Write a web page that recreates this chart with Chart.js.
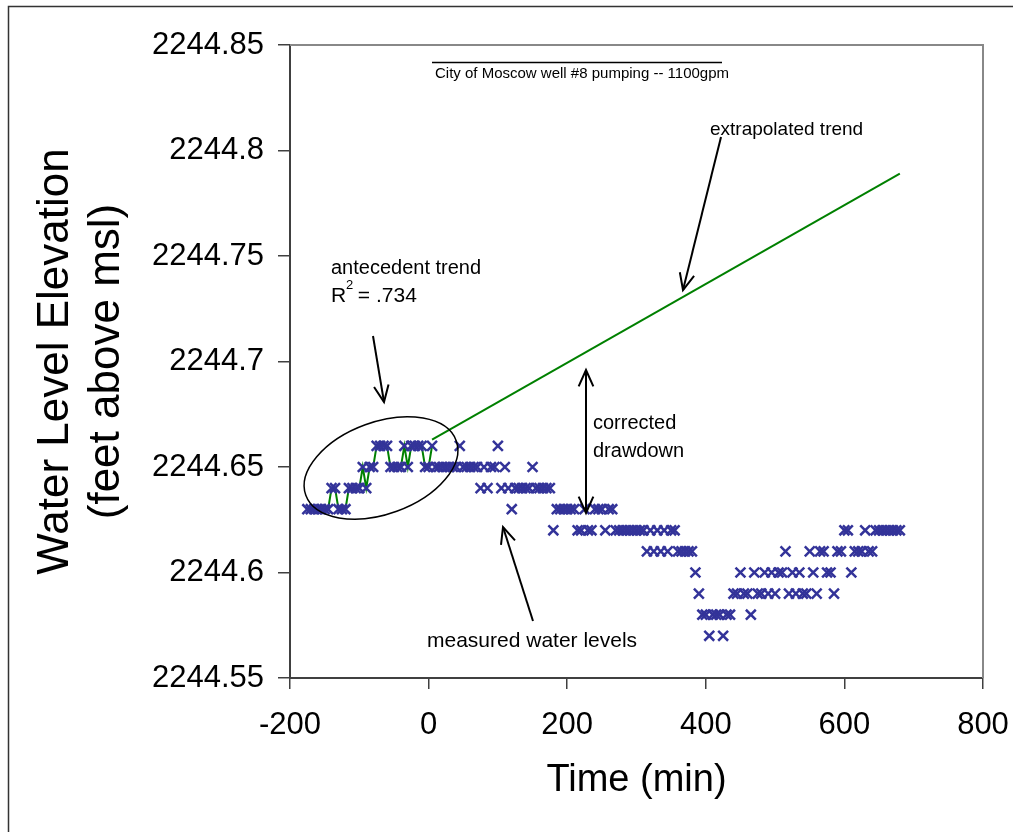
<!DOCTYPE html>
<html>
<head>
<meta charset="utf-8">
<title>Well #8 pumping test - water level</title>
<script src="https://cdn.jsdelivr.net/npm/chart.js@4.4.0/dist/chart.umd.min.js"></script>
<style>
  html, body { margin: 0; padding: 0; background: #fff; }
  #wrap { width: 1013px; height: 832px; }
</style>
</head>
<body>
<div id="wrap"><canvas id="levelChart" width="1013" height="832"></canvas></div>
<script>
// --- DATA ---
// antecedent readings before the pump started (minutes, feet above msl)
const preTimes = [-175, -170, -165, -160, -155, -150, -145, -140, -135, -130, -125, -120,
  -115, -110, -105, -100, -95, -90, -85, -80, -75, -70, -65, -60, -55, -50, -45, -40,
  -35, -30, -25, -20, -15, -10, -5, 0, 5];
const preLevels = [2244.63, 2244.63, 2244.63, 2244.63, 2244.63, 2244.63, 2244.63, 2244.64,
  2244.64, 2244.63, 2244.63, 2244.63, 2244.64, 2244.64, 2244.64, 2244.64, 2244.65, 2244.64,
  2244.65, 2244.65, 2244.66, 2244.66, 2244.66, 2244.66, 2244.65, 2244.65, 2244.65, 2244.65,
  2244.66, 2244.65, 2244.66, 2244.66, 2244.66, 2244.66, 2244.65, 2244.65, 2244.66];

// measured levels while pumping at 1100 gpm
const postTimes = [10, 15, 20, 25, 30, 35, 40, 45, 50, 55, 60, 65, 70, 75, 80, 85, 90, 95,
  100, 105, 110, 115, 120, 125, 130, 135, 140, 145, 150, 155, 160, 165, 170, 175, 180, 185,
  190, 195, 200, 205, 210, 215, 220, 225, 230, 235, 240, 245, 250, 255, 260, 265, 270, 275,
  280, 285, 290, 295, 300, 305, 310, 315, 320, 325, 330, 335, 340, 345, 350, 355, 360, 365,
  370, 375, 380, 385, 390, 395, 400, 405, 410, 415, 420, 425, 430, 435, 440, 445, 450, 455,
  460, 465, 470, 475, 480, 485, 490, 495, 500, 505, 510, 515, 520, 525, 530, 535, 540, 545,
  550, 555, 560, 565, 570, 575, 580, 585, 590, 595, 600, 605, 610, 615, 620, 625, 630, 635,
  640, 645, 650, 655, 660, 665, 670, 675, 680];
const postLevels = [2244.65, 2244.65, 2244.65, 2244.65, 2244.65, 2244.65, 2244.65, 2244.66,
  2244.65, 2244.65, 2244.65, 2244.65, 2244.65, 2244.64, 2244.65, 2244.64, 2244.65, 2244.65,
  2244.66, 2244.64, 2244.65, 2244.64, 2244.63, 2244.64, 2244.64, 2244.64, 2244.64, 2244.64,
  2244.65, 2244.64, 2244.64, 2244.64, 2244.64, 2244.64, 2244.62, 2244.63, 2244.63, 2244.63,
  2244.63, 2244.63, 2244.63, 2244.62, 2244.62, 2244.63, 2244.62, 2244.62, 2244.63, 2244.63,
  2244.63, 2244.62, 2244.63, 2244.63, 2244.62, 2244.62, 2244.62, 2244.62, 2244.62, 2244.62,
  2244.62, 2244.62, 2244.62, 2244.61, 2244.62, 2244.61, 2244.62, 2244.61, 2244.62, 2244.61,
  2244.62, 2244.62, 2244.61, 2244.61, 2244.61, 2244.61, 2244.61, 2244.60, 2244.59, 2244.58,
  2244.58, 2244.57, 2244.58, 2244.58, 2244.58, 2244.57, 2244.58, 2244.58, 2244.59, 2244.59,
  2244.60, 2244.59, 2244.59, 2244.58, 2244.60, 2244.59, 2244.59, 2244.60, 2244.59, 2244.60,
  2244.59, 2244.60, 2244.60, 2244.61, 2244.59, 2244.60, 2244.59, 2244.60, 2244.59, 2244.59,
  2244.61, 2244.60, 2244.59, 2244.61, 2244.61, 2244.60, 2244.60, 2244.59, 2244.61, 2244.61,
  2244.62, 2244.62, 2244.60, 2244.61, 2244.61, 2244.61, 2244.62, 2244.61, 2244.61, 2244.62,
  2244.62, 2244.62, 2244.62, 2244.62, 2244.62, 2244.62, 2244.62];

// antecedent trend carried forward past pump start
const trendTimes = [5, 680];
const trendLevels = [2244.663, 2244.789];

const xTicks = [-200, 0, 200, 400, 600, 800];
const yTicks = [2244.55, 2244.6, 2244.65, 2244.7, 2244.75, 2244.8, 2244.85];

const FONT = "'Liberation Sans', Arial, sans-serif";
const BLUE = '#333399';
const GREEN = '#008000';
const AXIS = '#404040';

function toPoints(xs, ys) {
  return xs.map((x, i) => ({ x: x, y: ys[i] }));
}

// --- ANNOTATIONS ---
function arrowHead(ctx, x1, y1, x2, y2) {
  const ang = Math.atan2(y2 - y1, x2 - x1);
  const len = 18, spread = 0.42;
  ctx.beginPath();
  ctx.moveTo(x2 - len * Math.cos(ang - spread), y2 - len * Math.sin(ang - spread));
  ctx.lineTo(x2, y2);
  ctx.lineTo(x2 - len * Math.cos(ang + spread), y2 - len * Math.sin(ang + spread));
  ctx.stroke();
}

function arrow(ctx, x1, y1, x2, y2, both) {
  ctx.beginPath();
  ctx.moveTo(x1, y1);
  ctx.lineTo(x2, y2);
  ctx.stroke();
  arrowHead(ctx, x1, y1, x2, y2);
  if (both) arrowHead(ctx, x2, y2, x1, y1);
}

const notesPlugin = {
  id: 'notes',
  afterDraw(chart) {
    const ctx = chart.ctx;
    const area = chart.chartArea;
    ctx.save();

    // outer frame
    ctx.strokeStyle = '#333';
    ctx.lineWidth = 1.5;
    ctx.beginPath();
    ctx.moveTo(8.5, 832);
    ctx.lineTo(8.5, 6.5);
    ctx.lineTo(1013, 6.5);
    ctx.stroke();

    // top and right edge of the plot box
    ctx.strokeStyle = '#888';
    ctx.lineWidth = 2;
    ctx.beginPath();
    ctx.moveTo(area.left, area.top);
    ctx.lineTo(area.right, area.top);
    ctx.lineTo(area.right, area.bottom);
    ctx.stroke();

    ctx.strokeStyle = '#000';
    ctx.fillStyle = '#000';
    ctx.textBaseline = 'middle';
    ctx.textAlign = 'left';

    // pumping note with the bar above it
    ctx.lineWidth = 1.5;
    ctx.beginPath();
    ctx.moveTo(432, 62.5);
    ctx.lineTo(722, 62.5);
    ctx.stroke();
    ctx.font = '15px ' + FONT;
    ctx.fillText('City of Moscow well #8 pumping -- 1100gpm', 435, 74);

    ctx.font = '19px ' + FONT;
    ctx.fillText('extrapolated trend', 710, 130);
    ctx.font = '20px ' + FONT;
    ctx.fillText('antecedent trend', 331, 268);
    ctx.font = '21px ' + FONT;
    ctx.fillText('R', 331, 296);
    ctx.font = '13px ' + FONT;
    ctx.fillText('2', 346, 285);
    ctx.font = '21px ' + FONT;
    ctx.fillText(' = .734', 352, 296);
    ctx.font = '20px ' + FONT;
    ctx.fillText('corrected', 593, 423);
    ctx.fillText('drawdown', 593, 451);
    ctx.font = '21px ' + FONT;
    ctx.fillText('measured water levels', 427, 641);

    ctx.lineWidth = 2;
    arrow(ctx, 721, 137, 683, 290, false);
    arrow(ctx, 373, 336, 384, 402, false);
    arrow(ctx, 586, 370, 586, 513, true);
    arrow(ctx, 533, 621, 503, 527, false);

    // circle around the antecedent readings
    ctx.lineWidth = 1.5;
    ctx.beginPath();
    ctx.ellipse(381, 468, 80, 46, -20 * Math.PI / 180, 0, Math.PI * 2);
    ctx.stroke();

    ctx.restore();
  }
};

// --- CHART ---
const ctx = document.getElementById('levelChart').getContext('2d');
const levelChart = new Chart(ctx, {
  type: 'scatter',
  data: {
    datasets: [
      {
        label: 'measured water levels',
        data: toPoints(postTimes, postLevels),
        pointStyle: 'crossRot',
        pointRadius: 7,
        pointBorderWidth: 2.5,
        pointBorderColor: BLUE,
        pointBackgroundColor: BLUE,
        showLine: false
      },
      {
        label: 'antecedent',
        data: toPoints(preTimes, preLevels),
        showLine: true,
        borderColor: GREEN,
        borderWidth: 2,
        pointStyle: 'crossRot',
        pointRadius: 7,
        pointBorderWidth: 2.5,
        pointBorderColor: BLUE,
        pointBackgroundColor: BLUE
      },
      {
        label: 'extrapolated trend',
        data: toPoints(trendTimes, trendLevels),
        showLine: true,
        borderColor: GREEN,
        borderWidth: 2,
        pointRadius: 0
      }
    ]
  },
  options: {
    responsive: false,
    animation: false,
    events: [],
    layout: { padding: { top: 45, right: 30, left: 0, bottom: 0 } },
    plugins: {
      legend: { display: false },
      tooltip: { enabled: false }
    },
    scales: {
      x: {
        type: 'linear',
        min: -200,
        max: 800,
        afterBuildTicks: scale => { scale.ticks = xTicks.map(v => ({ value: v })); },
        afterFit: scale => {
          scale.height = 154;
          scale.paddingLeft = 0;
          scale.paddingRight = 0;
        },
        border: { display: true, color: AXIS, width: 2 },
        grid: { drawOnChartArea: false, drawTicks: true, tickLength: 11, color: AXIS, lineWidth: 1.5 },
        ticks: {
          color: '#000',
          padding: 18,
          font: { family: FONT, size: 31 },
          callback: v => String(v)
        },
        title: {
          display: true,
          text: 'Time (min)',
          color: '#000',
          font: { family: FONT, size: 38 },
          padding: { top: 0, bottom: 29 }
        }
      },
      y: {
        type: 'linear',
        min: 2244.55,
        max: 2244.85,
        afterBuildTicks: scale => { scale.ticks = yTicks.map(v => ({ value: v })); },
        afterFit: scale => {
          scale.width = 290;
          scale.paddingTop = 0;
          scale.paddingBottom = 0;
        },
        border: { display: true, color: AXIS, width: 2 },
        grid: { drawOnChartArea: false, drawTicks: true, tickLength: 12, color: AXIS, lineWidth: 1.5 },
        ticks: {
          color: '#000',
          padding: 14,
          font: { family: FONT, size: 31 },
          callback: v => String(v)
        },
        title: {
          display: true,
          text: ['Water Level Elevation', '(feet above msl)'],
          color: '#000',
          font: { family: FONT, size: 44, lineHeight: 1.16 },
          padding: { top: 30, bottom: 0 }
        }
      }
    }
  },
  plugins: [notesPlugin]
});
</script>
</body>
</html>
